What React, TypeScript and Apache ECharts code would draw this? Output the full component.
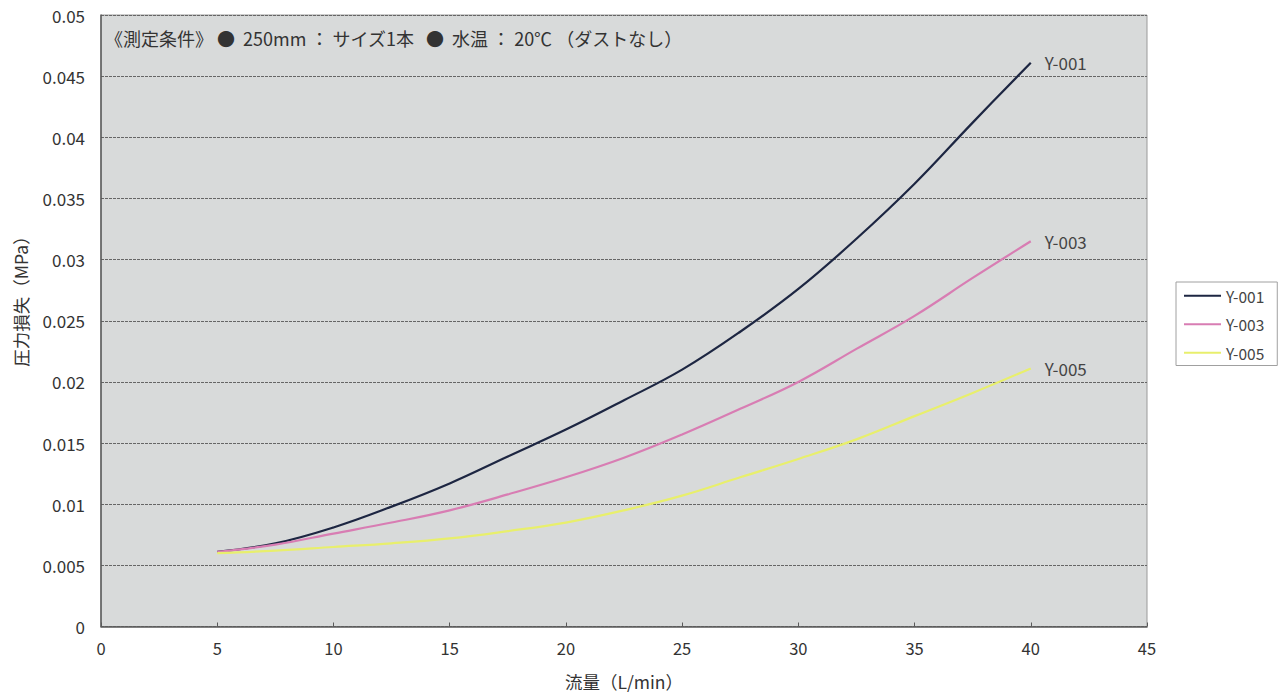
import React, { useEffect, useRef } from "react";
import * as echarts from "echarts";

const flow = [5, 7.5, 10, 12.5, 15, 17.5, 20, 22.5, 25, 27.5, 30, 32.5, 35, 37.5, 40];
const y001 = [0.0061, 0.0068, 0.0081, 0.0098, 0.0117, 0.0139, 0.0161, 0.0185, 0.021, 0.0241, 0.0276, 0.0317, 0.0362, 0.0412, 0.0461];
const y003 = [0.0061, 0.0067, 0.0076, 0.0085, 0.0095, 0.0108, 0.0122, 0.0138, 0.0157, 0.0178, 0.02, 0.0227, 0.0254, 0.0285, 0.0315];
const y005 = [0.006, 0.0062, 0.0065, 0.0068, 0.0072, 0.0078, 0.0085, 0.0095, 0.0107, 0.0122, 0.0137, 0.0153, 0.0172, 0.0191, 0.0211];
const seriesNames = ["Y-001", "Y-003", "Y-005"];
const seriesColors = ["#1d2642", "#d87db3", "#e8ef6c"];
const conditionText = "《測定条件》 ●  250mm ： サイズ1本   ●  水温 ： 20℃ （ダストなし）";
const yAxisTitle = "圧力損失（MPa）";
const xAxisTitle = "流量（L/min）";

const FONT = "'Noto Sans CJK JP', 'Noto Sans', sans-serif";

export default function App() {
  const ref = useRef<HTMLDivElement>(null);
  useEffect(() => {
    if (!ref.current) return;
    const chart = echarts.init(ref.current, undefined, { renderer: "svg" });
    const allData = [y001, y003, y005];
    chart.setOption({
      animation: false,
      backgroundColor: "#ffffff",
      textStyle: { fontFamily: FONT },
      grid: {
        left: 101,
        right: 134,
        top: 15,
        bottom: 66,
        show: true,
        backgroundColor: "#d8dada",
        borderColor: "#9a9a9a",
        borderWidth: 1,
      },
      legend: {
        data: seriesNames.map((n) => ({ name: n, icon: "path://M0,0H37V2H0Z" })),
        orient: "vertical",
        left: 1176,
        top: 282,
        itemWidth: 37,
        itemHeight: 14,
        itemGap: 13,
        padding: [6, 13, 5, 8],
        backgroundColor: "#ffffff",
        borderColor: "#a0a0a0",
        borderWidth: 1,
        borderRadius: 0,
        textStyle: { color: "#444", fontSize: 15.5, fontFamily: FONT },
      },
      xAxis: {
        type: "value",
        min: 0,
        max: 45,
        interval: 5,
        name: xAxisTitle,
        nameLocation: "middle",
        nameGap: 46,
        nameTextStyle: { color: "#333", fontSize: 17.5, fontFamily: FONT },
        axisLine: { show: true, lineStyle: { color: "#5a5a5a", width: 1.5 } },
        axisTick: { show: true, inside: true, length: 4, lineStyle: { color: "#5a5a5a" } },
        axisLabel: { color: "#333", fontSize: 16.5, margin: 13 },
        splitLine: { show: false },
      },
      yAxis: {
        type: "value",
        min: 0,
        max: 0.05,
        interval: 0.005,
        axisLine: { show: true, lineStyle: { color: "#5a5a5a", width: 1.5 } },
        axisTick: { show: false },
        axisLabel: {
          color: "#333",
          fontSize: 17,
          margin: 16,
          formatter: (v: number) => String(+v.toFixed(3)),
        },
        splitLine: { show: true, lineStyle: { color: "#666", type: [3, 1], width: 1 } },
      },
      graphic: [
        {
          type: "text",
          left: 105,
          top: 29,
          style: {
            text: conditionText,
            fill: "#333",
            fontSize: 18,
            fontFamily: FONT,
          },
        },
        {
          type: "text",
          x: 20,
          y: 297,
          rotation: Math.PI / 2,
          style: {
            text: yAxisTitle,
            fill: "#333",
            fontSize: 17.5,
            fontFamily: FONT,
            align: "center",
            verticalAlign: "middle",
          },
        },
      ],
      series: seriesNames.map((name, i) => ({
        name,
        type: "line",
        smooth: 0.4,
        symbol: "none",
        showSymbol: false,
        color: seriesColors[i],
        lineStyle: { color: seriesColors[i], width: 2.2 },
        data: flow.map((x, j) => [x, allData[i][j]]),
        endLabel: {
          show: true,
          formatter: "{a}",
          color: "#444",
          fontSize: 17,
          distance: 14,
          fontFamily: FONT,
        },
      })),
    });
    return () => chart.dispose();
  }, []);
  return (
    <div
      ref={ref}
      style={{ position: "fixed", left: 0, top: 0, width: 1281, height: 695 }}
    />
  );
}
